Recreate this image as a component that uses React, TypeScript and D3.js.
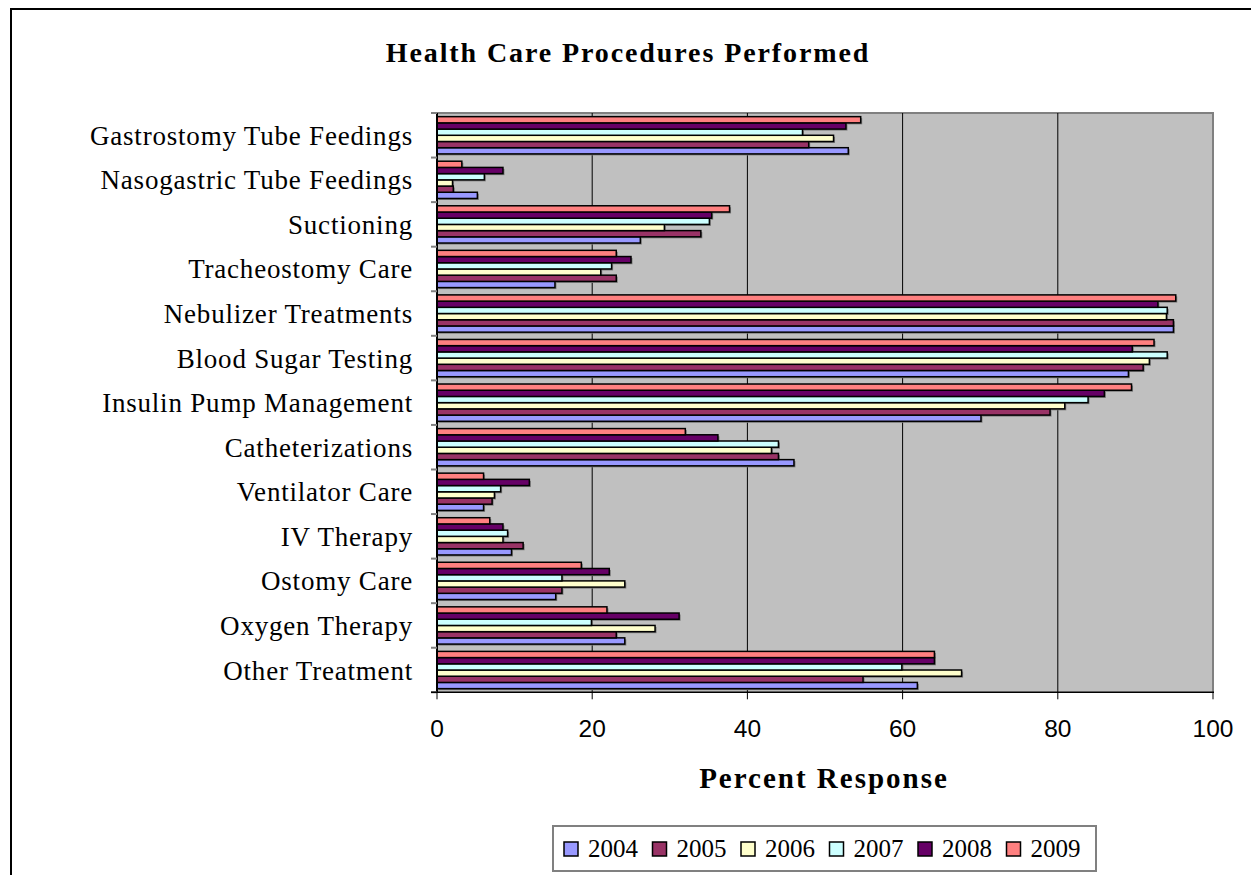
import React from "react";
import * as d3 from "d3";

const categories = [
  "Gastrostomy Tube Feedings",
  "Nasogastric Tube Feedings",
  "Suctioning",
  "Tracheostomy Care",
  "Nebulizer Treatments",
  "Blood Sugar Testing",
  "Insulin Pump Management",
  "Catheterizations",
  "Ventilator Care",
  "IV Therapy",
  "Ostomy Care",
  "Oxygen Therapy",
  "Other Treatment",
];

const years = ["2004", "2005", "2006", "2007", "2008", "2009"];

const values2004 = [53, 5.2, 26.2, 15.2, 94.9, 89.1, 70.1, 46, 6, 9.6, 15.3, 24.2, 61.9];
const values2005 = [47.9, 2.1, 34, 23.1, 94.9, 91, 79, 44, 7.1, 11.1, 16.1, 23.1, 54.9];
const values2006 = [51.1, 2, 29.3, 21.1, 94, 91.8, 80.9, 43.1, 7.4, 8.5, 24.2, 28.1, 67.6];
const values2007 = [47.1, 6.1, 35.1, 22.5, 94.1, 94.1, 83.9, 44, 8.2, 9.1, 16.1, 19.9, 59.9];
const values2008 = [52.7, 8.5, 35.4, 25, 92.9, 89.6, 86, 36.2, 11.9, 8.5, 22.2, 31.2, 64.1];
const values2009 = [54.6, 3.2, 37.7, 23.1, 95.2, 92.4, 89.5, 32, 6, 6.8, 18.6, 21.9, 64.1];

const xTicks = [0, 20, 40, 60, 80, 100];

const seriesValues = [values2004, values2005, values2006, values2007, values2008, values2009];
const colors = ["#9999FF", "#993366", "#FFFFCC", "#CCFFFF", "#660066", "#FF8080"];

const W = 1251;
const H = 875;
const PL = 437, PR = 1213, PT = 113, PB = 692.3;

export default function App() {
  const x = d3.scaleLinear().domain([0, 100]).range([PL, PR]);
  const y0 = d3
    .scaleBand<string>()
    .domain(categories)
    .range([PT, PB])
    .paddingInner(0.164)
    .paddingOuter(0.082);
  const yearsTopDown = [...years].reverse();
  const y1 = d3.scaleBand<string>().domain(yearsTopDown).range([0, y0.bandwidth()]);
  const step = y0.step();
  const catTicks = d3.range(categories.length + 1).map((i) => PT + i * step);

  const serif = "'Liberation Serif', 'Times New Roman', serif";
  const sans = "'Liberation Sans', Arial, sans-serif";

  const legendX = 553;
  const legendItemW = 88.5;

  return (
    <svg
      width={W}
      height={H}
      style={{ position: "absolute", left: 0, top: 0, background: "#fff" }}
    >
      <rect x={0} y={0} width={W} height={H} fill="#fff" />
      {/* chart area border */}
      <rect x={11} y={9} width={W + 20} height={H + 20} fill="none" stroke="#000" strokeWidth={2} />

      {/* title */}
      <text
        x={628}
        y={62}
        textAnchor="middle"
        fontFamily={serif}
        fontWeight="bold"
        fontSize={28}
        letterSpacing={1.9}
      >
        Health Care Procedures Performed
      </text>

      {/* plot area */}
      <rect x={PL} y={PT} width={PR - PL} height={PB - PT} fill="#C0C0C0" />
      <line x1={PL} x2={PR + 1} y1={PT} y2={PT} stroke="#808080" strokeWidth={2} />
      <line x1={PR} x2={PR} y1={PT} y2={PB} stroke="#808080" strokeWidth={2} />

      {/* gridlines */}
      {xTicks.slice(1, -1).map((t) => (
        <line key={t} x1={x(t)} x2={x(t)} y1={PT} y2={PB} stroke="#000" strokeWidth={1} />
      ))}

      {/* bars */}
      {categories.map((c, ci) => (
        <g key={c} transform={`translate(0,${y0(c)})`}>
          {years.map((yr, si) => {
            const v = seriesValues[si][ci];
            const yy = y1(yr) as number;
            const bh = y1.bandwidth();
            return (
              <rect
                key={yr}
                x={x(0) + 1.5}
                y={yy + 1.5}
                width={x(v) - x(0)}
                height={bh}
                fill="#7a7a7a"
              />
            );
          })}
          {years.map((yr, si) => {
            const v = seriesValues[si][ci];
            const yy = y1(yr) as number;
            const bh = y1.bandwidth();
            return (
              <rect
                key={yr}
                x={x(0)}
                y={yy}
                width={x(v) - x(0)}
                height={bh}
                fill={colors[si]}
                stroke="#000"
                strokeWidth={1.5}
              />
            );
          })}
        </g>
      ))}

      {/* axes */}
      <line x1={PL} x2={PL} y1={PT} y2={PB} stroke="#000" strokeWidth={2} />
      {catTicks.map((t, i) => (
        <line key={i} x1={PL - 6} x2={PL} y1={t} y2={t} stroke="#808080" strokeWidth={2} />
      ))}
      <line x1={PL - 6} x2={PR + 1} y1={PB} y2={PB} stroke="#000" strokeWidth={1.5} />
      {xTicks.map((t) => (
        <line key={t} x1={x(t)} x2={x(t)} y1={PB} y2={PB + 7} stroke="#000" strokeWidth={1} />
      ))}

      {/* category labels */}
      {categories.map((c) => (
        <text
          key={c}
          x={413}
          y={(y0(c) as number) + y0.bandwidth() / 2 + 9.5}
          textAnchor="end"
          fontFamily={serif}
          fontSize={27}
          letterSpacing={0.8}
        >
          {c}
        </text>
      ))}

      {/* x tick labels */}
      {xTicks.map((t) => (
        <text
          key={t}
          x={x(t)}
          y={737}
          textAnchor="middle"
          fontFamily={sans}
          fontSize={24.5}
        >
          {t}
        </text>
      ))}

      {/* axis title */}
      <text
        x={824}
        y={788}
        textAnchor="middle"
        fontFamily={serif}
        fontWeight="bold"
        fontSize={29}
        letterSpacing={2}
      >
        Percent Response
      </text>

      {/* legend */}
      <rect
        x={legendX}
        y={826}
        width={legendItemW * 6 + 12}
        height={45}
        fill="#fff"
        stroke="#808080"
        strokeWidth={2}
      />
      {years.map((yr, i) => {
        const lx = legendX + 11 + i * legendItemW;
        return (
          <g key={yr}>
            <rect x={lx} y={842} width={14} height={14} fill={colors[i]} stroke="#000" strokeWidth={1.5} />
            <text x={lx + 24} y={857} fontFamily={serif} fontSize={25}>
              {yr}
            </text>
          </g>
        );
      })}
    </svg>
  );
}
